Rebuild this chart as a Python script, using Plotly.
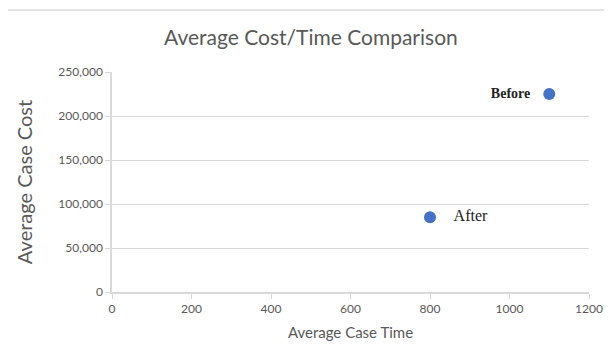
import plotly.graph_objects as go

labels = ["Before", "After"]
case_time = [1100, 800]
case_cost = [225000, 85000]
label_positions = ["middle left", "middle right"]
x_ticks = [0, 200, 400, 600, 800, 1000, 1200]
y_ticks = [0, 50000, 100000, 150000, 200000, 250000]
y_tick_text = ["0", "50,000", "100,000", "150,000", "200,000", "250,000"]

fig = go.Figure()
fig.add_trace(go.Scatter(
    x=case_time, y=case_cost, mode="markers+text",
    text=["<b>" + labels[0] + "</b>   ", "    " + labels[1]],
    textposition=label_positions,
    textfont=dict(family="Liberation Serif", size=[14, 16], color="#222222"),
    marker=dict(size=12, color="#4472C4"),
    showlegend=False, cliponaxis=False,
))

axis_font = dict(family="Lato, Open Sans, sans-serif", size=12, color="#595959")
fig.update_layout(
    width=612, height=360,
    margin=dict(l=104, r=31, t=64, b=76),
    paper_bgcolor="white", plot_bgcolor="white",
    title=dict(text="Average Cost/Time Comparison", x=0.495, xanchor="center",
               y=0.919, yanchor="middle",
               font=dict(family="Lato, Open Sans, sans-serif", size=21, color="#595959")),
    xaxis=dict(range=[0, 1200], tickvals=x_ticks, ticks="outside", ticklen=5,
               tickcolor="#d9d9d9", showline=True, linecolor="#d9d9d9", linewidth=1.5,
               showgrid=False, zeroline=False, tickfont=axis_font,
               title=dict(text="Average Case Time", standoff=12,
                          font=dict(family="Lato, Open Sans, sans-serif", size=15, color="#595959"))),
    yaxis=dict(range=[0, 250000], tickvals=y_ticks, ticktext=y_tick_text,
               ticks="outside", ticklen=5, tickcolor="#d9d9d9",
               showline=True, linecolor="#d9d9d9", linewidth=1.5,
               showgrid=True, gridcolor="#d9d9d9", gridwidth=1.2, zeroline=False,
               tickfont=axis_font,
               title=dict(text="Average Case Cost", standoff=20,
                          font=dict(family="Lato, Open Sans, sans-serif", size=20, color="#595959"))),
    shapes=[dict(type="rect", xref="paper", yref="paper",
                 x0=-0.222, x1=1.2, y0=-0.5, y1=1.282,
                 line=dict(color="#d9d9d9", width=1.5), fillcolor="rgba(0,0,0,0)", layer="below")],
)

fig.write_html("out.html")
